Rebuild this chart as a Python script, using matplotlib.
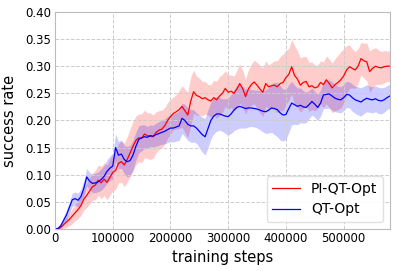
#!/usr/bin/env python

import numpy as np
import matplotlib
matplotlib.use('Agg')
import matplotlib.pyplot as plt

# training steps, one sample every 5000 steps
steps = np.arange(0, 580001, 5000)

# PI-QT-Opt mean success rate
pi_qt_mean = [
    0.000, 0.000, 0.003, 0.008, 0.013,
    0.018, 0.024, 0.030, 0.036, 0.043, 0.055,
    0.062, 0.070, 0.078, 0.081, 0.090, 0.085, 0.092, 0.086, 0.095, 0.104,
    0.108, 0.121, 0.124, 0.118, 0.128, 0.140, 0.152, 0.163, 0.168, 0.167,
    0.175, 0.172, 0.171, 0.170, 0.178, 0.182, 0.184, 0.190, 0.200, 0.207,
    0.213, 0.216, 0.220, 0.226, 0.218, 0.210, 0.235, 0.253, 0.246, 0.244,
    0.240, 0.242, 0.238, 0.236, 0.242, 0.238, 0.245, 0.250, 0.259, 0.252,
    0.254, 0.250, 0.258, 0.268, 0.259, 0.244, 0.258, 0.266, 0.271, 0.265,
    0.258, 0.252, 0.268, 0.262, 0.264, 0.265, 0.262, 0.268, 0.270, 0.279,
    0.285, 0.299, 0.283, 0.276, 0.265, 0.270, 0.272, 0.262, 0.264, 0.260,
    0.262, 0.270, 0.266, 0.275, 0.268, 0.260, 0.266, 0.270, 0.275, 0.282,
    0.293, 0.299, 0.296, 0.293, 0.300, 0.314, 0.310, 0.308, 0.290, 0.296,
    0.300, 0.298, 0.297, 0.299, 0.300, 0.300,
]

# half width of the shaded band
pi_qt_spread = [
    0.002, 0.003, 0.005, 0.007, 0.010,
    0.012, 0.014, 0.015, 0.017, 0.018, 0.020,
    0.022, 0.024, 0.025, 0.027, 0.028, 0.030, 0.030, 0.032, 0.033, 0.034,
    0.035, 0.036, 0.038, 0.040, 0.042, 0.044, 0.046, 0.045, 0.044, 0.045,
    0.044, 0.042, 0.043, 0.040, 0.038, 0.036, 0.035, 0.034, 0.033, 0.032,
    0.030, 0.032, 0.035, 0.038, 0.040, 0.042, 0.045, 0.040, 0.036, 0.034,
    0.032, 0.030, 0.028, 0.030, 0.032, 0.034, 0.036, 0.035, 0.033, 0.032,
    0.030, 0.032, 0.034, 0.036, 0.034, 0.032, 0.035, 0.038, 0.040, 0.042,
    0.044, 0.045, 0.042, 0.040, 0.042, 0.045, 0.048, 0.050, 0.052, 0.050,
    0.048, 0.050, 0.055, 0.052, 0.050, 0.048, 0.046, 0.045, 0.044, 0.042,
    0.040, 0.040, 0.042, 0.044, 0.045, 0.046, 0.048, 0.050, 0.052, 0.050,
    0.045, 0.040, 0.036, 0.034, 0.032, 0.030, 0.032, 0.035, 0.038, 0.036,
    0.034, 0.032, 0.030, 0.030, 0.028, 0.028,
]

# QT-Opt mean success rate
qt_mean = [
    0.000, 0.001, 0.006, 0.016, 0.026,
    0.040, 0.054, 0.056, 0.053, 0.060, 0.075,
    0.096, 0.088, 0.084, 0.085, 0.087, 0.091, 0.097, 0.106, 0.112, 0.116,
    0.150, 0.136, 0.138, 0.128, 0.124, 0.126, 0.136, 0.152, 0.165, 0.168,
    0.170, 0.169, 0.172, 0.171, 0.174, 0.176, 0.178, 0.180, 0.183, 0.186,
    0.186, 0.188, 0.190, 0.204, 0.200, 0.193, 0.190, 0.190, 0.186, 0.180,
    0.174, 0.170, 0.185, 0.200, 0.208, 0.212, 0.212, 0.210, 0.208, 0.207,
    0.212, 0.219, 0.224, 0.226, 0.224, 0.222, 0.223, 0.223, 0.222, 0.221,
    0.219, 0.217, 0.216, 0.219, 0.223, 0.222, 0.220, 0.214, 0.210, 0.211,
    0.222, 0.232, 0.229, 0.226, 0.228, 0.225, 0.224, 0.229, 0.235, 0.230,
    0.224, 0.232, 0.247, 0.248, 0.249, 0.245, 0.241, 0.239, 0.238, 0.242,
    0.248, 0.247, 0.242, 0.238, 0.236, 0.234, 0.238, 0.241, 0.239, 0.238,
    0.240, 0.237, 0.236, 0.238, 0.242, 0.245,
]

qt_spread = [
    0.002, 0.003, 0.005, 0.008, 0.010,
    0.010, 0.012, 0.012, 0.013, 0.014, 0.015,
    0.016, 0.016, 0.017, 0.018, 0.018, 0.020, 0.020, 0.022, 0.022, 0.024,
    0.025, 0.025, 0.026, 0.026, 0.028, 0.028, 0.027, 0.026, 0.025, 0.024,
    0.022, 0.020, 0.020, 0.020, 0.021, 0.022, 0.022, 0.023, 0.024, 0.025,
    0.026, 0.026, 0.027, 0.028, 0.030, 0.030, 0.030, 0.030, 0.028, 0.030,
    0.032, 0.034, 0.035, 0.034, 0.033, 0.032, 0.030, 0.030, 0.032, 0.034,
    0.036, 0.038, 0.040, 0.040, 0.038, 0.036, 0.035, 0.034, 0.034, 0.035,
    0.036, 0.038, 0.040, 0.042, 0.045, 0.048, 0.050, 0.050, 0.048, 0.046,
    0.044, 0.040, 0.036, 0.034, 0.032, 0.030, 0.028, 0.026, 0.025, 0.024,
    0.024, 0.024, 0.025, 0.026, 0.026, 0.026, 0.025, 0.024, 0.024, 0.024,
    0.024, 0.024, 0.025, 0.025, 0.026, 0.026, 0.025, 0.025, 0.024, 0.024,
    0.024, 0.024, 0.024, 0.023, 0.022, 0.022,
]

series = [
    ('PI-QT-Opt', pi_qt_mean, pi_qt_spread, 'red'),
    ('QT-Opt', qt_mean, qt_spread, 'blue'),
]


def main():
    fig = plt.figure(figsize=(3.97, 2.71), dpi=100)
    ax = fig.add_axes([0.1385, 0.155, 0.8435, 0.801])

    for label, mean, spread, color in series:
        mean = np.array(mean)
        spread = np.array(spread)
        ax.fill_between(steps, mean - spread, mean + spread,
                        color=color, alpha=0.2, linewidth=0)
        ax.plot(steps, mean, color=color, linewidth=0.9, label=label)

    ax.set_xlim(0, 580000)
    ax.set_ylim(0, 0.40)
    yt = np.arange(0, 0.401, 0.05)
    ax.set_yticks(yt)
    ax.set_yticklabels(['%.2f' % v for v in yt])
    ax.set_xticks([0, 100000, 200000, 300000, 400000, 500000])
    ax.tick_params(length=0, labelsize=8.5, pad=2.5)

    ax.grid(True, linestyle='--', color='#cccccc', linewidth=0.7)
    for sp in ax.spines.values():
        sp.set_color('#bbbbbb')

    ax.set_xlabel('training steps', fontsize=10.5, labelpad=3)
    ax.set_ylabel('success rate', fontsize=10.5, labelpad=6)

    leg = ax.legend(loc='lower right', fontsize=10, framealpha=0.9,
                    borderaxespad=0.5)
    leg.get_frame().set_edgecolor('#dddddd')

    fig.savefig('out.png', dpi=100)


if __name__ == '__main__':
    main()
